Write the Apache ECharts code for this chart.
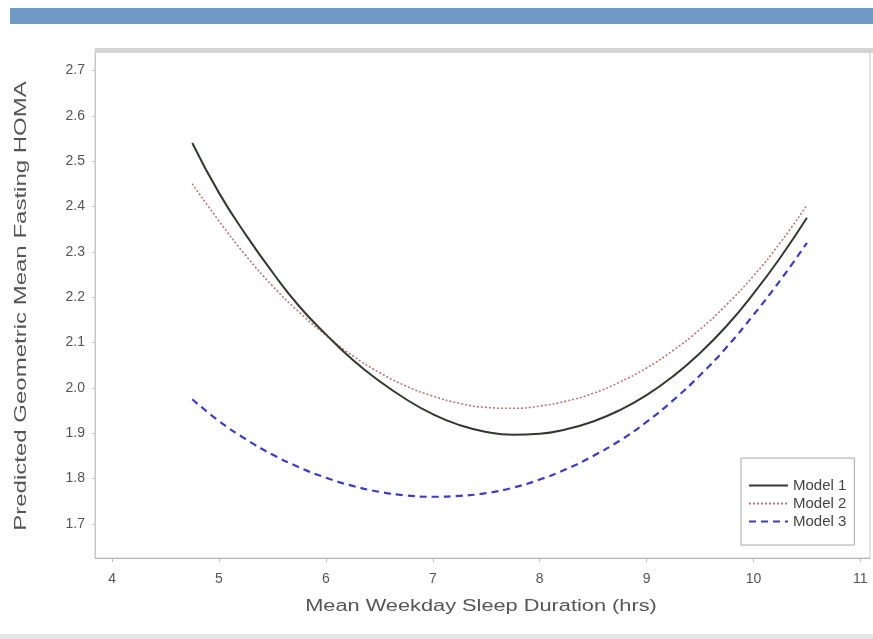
<!DOCTYPE html>
<html>
<head>
<meta charset="utf-8">
<script src="https://cdn.jsdelivr.net/npm/echarts@6/dist/echarts.min.js"></script>
<style>
  html, body { margin: 0; padding: 0; background: #ffffff; }
  #chart { width: 873px; height: 639px; }
</style>
</head>
<body>
<div id="chart"></div>
<script>
// Sleep duration grid (hours)
const sleepHours = [4.75, 5.0, 5.25, 5.5, 5.75, 6.0, 6.25, 6.5, 6.75, 7.0, 7.25, 7.5,
                    7.75, 8.0, 8.25, 8.5, 8.75, 9.0, 9.25, 9.5, 9.75, 10.0, 10.25, 10.5];

// Predicted geometric mean fasting HOMA per model
const model1 = [2.540, 2.430, 2.338, 2.255, 2.180, 2.118, 2.062, 2.015, 1.975, 1.942, 1.918, 1.903,
                1.897, 1.899, 1.909, 1.926, 1.951, 1.984, 2.026, 2.077, 2.137, 2.208, 2.287, 2.375];
const model2 = [2.450, 2.368, 2.292, 2.225, 2.167, 2.116, 2.071, 2.034, 2.004, 1.982, 1.966, 1.957,
                1.955, 1.960, 1.971, 1.988, 2.013, 2.044, 2.083, 2.129, 2.184, 2.247, 2.320, 2.403];
const model3 = [1.975, 1.927, 1.887, 1.853, 1.825, 1.802, 1.784, 1.771, 1.763, 1.760, 1.762, 1.768,
                1.780, 1.798, 1.821, 1.850, 1.884, 1.925, 1.973, 2.028, 2.090, 2.161, 2.237, 2.320];

const seriesNames = ['Model 1', 'Model 2', 'Model 3'];

// Tick labels and axis titles
const xTicks = [4, 5, 6, 7, 8, 9, 10, 11];
const yTicks = [1.7, 1.8, 1.9, 2.0, 2.1, 2.2, 2.3, 2.4, 2.5, 2.6, 2.7];
const xTitle = 'Mean Weekday Sleep Duration (hrs)';
const yTitle = 'Predicted Geometric Mean Fasting HOMA';

const pairs = ys => sleepHours.map((x, i) => [x, ys[i]]);

const textColor = '#555555';
const fontFamily = '"Liberation Sans", Arial, sans-serif';

const chart = echarts.init(document.getElementById('chart'), null, { renderer: 'canvas' });

chart.setOption({
  backgroundColor: '#ffffff',
  animation: false,
  textStyle: { fontFamily: fontFamily },
  graphic: [
    // header band
    { type: 'rect', shape: { x: 10, y: 8, width: 863, height: 16 },
      style: { fill: '#7099c6' }, z: 10 },
    // heavy top rule of the plot frame
    { type: 'rect', shape: { x: 95, y: 48, width: 778, height: 5 },
      style: { fill: '#d4d4d4' }, z: 10 },
    // bottom strip
    { type: 'rect', shape: { x: 0, y: 634, width: 873, height: 5 },
      style: { fill: '#e6e6e6' }, z: 10 },
    // axis titles, drawn wide
    { type: 'text', x: 481, y: 607, scaleX: 1.36, z: 10,
      style: { text: xTitle, fill: textColor, font: '16px ' + fontFamily,
               textAlign: 'center', textVerticalAlign: 'middle' } },
    { type: 'text', x: 22, y: 306, rotation: Math.PI / 2, scaleX: 1.5, z: 10,
      style: { text: yTitle, fill: textColor, font: '16px ' + fontFamily,
               textAlign: 'center', textVerticalAlign: 'middle' } }
  ],
  grid: {
    left: 95, right: 3, top: 50, bottom: 81,
    show: true, borderColor: '#c8c8c8', borderWidth: 1, backgroundColor: '#ffffff'
  },
  legend: {
    orient: 'vertical',
    left: 741, top: 458,
    padding: [20, 8, 16, 7],
    itemGap: 3,
    itemWidth: 39,
    itemHeight: 14,
    borderColor: '#a8a8a8',
    borderWidth: 1,
    backgroundColor: '#ffffff',
    itemStyle: { opacity: 0, borderWidth: 0 },
    textStyle: { color: '#444', fontSize: 15, fontFamily: fontFamily, padding: [0, 0, 0, 0] },
    data: seriesNames.map(n => ({ name: n }))
  },
  xAxis: {
    type: 'value',
    min: 3.84, max: 11.09,
    axisLine: { show: true, lineStyle: { color: '#b8b8b8' } },
    axisTick: { show: true, length: 4, customValues: xTicks, lineStyle: { color: '#b8b8b8' } },
    axisLabel: { customValues: xTicks, color: textColor, fontSize: 14, margin: 14,
                 formatter: v => String(v) },
    splitLine: { show: false }
  },
  yAxis: {
    type: 'value',
    min: 1.625, max: 2.745,
    axisLine: { show: true, lineStyle: { color: '#c8c8c8' } },
    axisTick: { show: true, length: 3, customValues: yTicks, lineStyle: { color: '#c8c8c8' } },
    axisLabel: { customValues: yTicks, color: textColor, fontSize: 14, margin: 10,
                 formatter: v => v.toFixed(1) },
    splitLine: { show: false }
  },
  series: [
    {
      name: seriesNames[0], type: 'line', smooth: true, symbol: 'none',
      data: pairs(model1), z: 3,
      lineStyle: { color: '#333833', width: 2, type: 'solid' },
      itemStyle: { color: '#333833' }
    },
    {
      name: seriesNames[1], type: 'line', smooth: true, symbol: 'none',
      data: pairs(model2), z: 2,
      lineStyle: { color: '#b87878', width: 1.6, type: [2, 2] },
      itemStyle: { color: '#b87878' }
    },
    {
      name: seriesNames[2], type: 'line', smooth: true, symbol: 'none',
      data: pairs(model3), z: 2,
      lineStyle: { color: '#3c3cc4', width: 2.2, type: [7, 5] },
      itemStyle: { color: '#3c3cc4' }
    }
  ]
});
</script>
</body>
</html>
